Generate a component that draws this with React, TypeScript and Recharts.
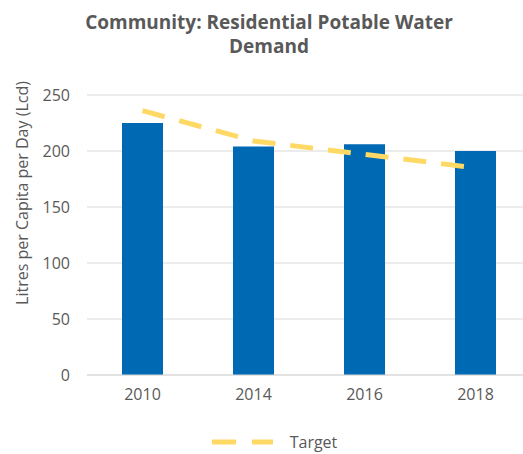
import React from 'react';
import {
  ComposedChart,
  Bar,
  Line,
  XAxis,
  YAxis,
  CartesianGrid,
  Legend,
} from 'recharts';

const years = ['2010', '2014', '2016', '2018'];
const demand = [225, 204, 206, 200];
const target = [236, 209, 197, 185];
const yTicks = [0, 50, 100, 150, 200, 250];

const FONT = '"Open Sans", "Noto Sans", sans-serif';
const GREY = '#595959';
const BLUE = '#0069b4';
const GOLD = '#ffd966';

const data = years.map((y, i) => ({ year: y, demand: demand[i], target: target[i] }));

const TargetLegend = () => (
  <div
    style={{
      display: 'flex',
      justifyContent: 'center',
      alignItems: 'center',
      fontFamily: FONT,
      paddingLeft: 11,
      position: 'relative',
      top: 1,
      lineHeight: '20px',
    }}
  >
    <svg width={61} height={10} style={{ marginRight: 17 }}>
      <line x1={0} y1={5} x2={61} y2={5} stroke={GOLD} strokeWidth={5} strokeDasharray="24 16" />
    </svg>
    <span style={{ color: GREY, fontSize: 16 }}>Target</span>
  </div>
);

// axis title sits a bit above the middle of the plot, like the original
const YTitle = () => (
  <text
    x={22}
    y={193}
    transform="rotate(-90 22 193)"
    textAnchor="middle"
    dominantBaseline="central"
    fill={GREY}
    fontSize={16}
    fontFamily={FONT}
  >
    Litres per Capita per Day (Lcd)
  </text>
);

export default function App() {
  return (
    <div
      style={{
        position: 'absolute',
        left: 0,
        top: 0,
        width: 523,
        height: 454,
        overflow: 'hidden',
        background: '#fff',
      }}
    >
      <div
        style={{
          position: 'absolute',
          left: 15,
          top: 10,
          width: 508,
          textAlign: 'center',
          fontFamily: FONT,
          fontWeight: 700,
          fontSize: 19,
          lineHeight: '24px',
          color: GREY,
        }}
      >
        Community: Residential Potable Water
        <br />
        Demand
      </div>
      {/* plot runs a little past the right edge, as in the source image */}
      <ComposedChart
        width={531}
        height={454}
        data={data}
        margin={{ top: 95, right: 0, left: 7, bottom: 3 }}
      >
        <CartesianGrid vertical={false} stroke="#d9d9d9" />
        <XAxis
          dataKey="year"
          axisLine={{ stroke: '#d9d9d9' }}
          tickLine={false}
          tickMargin={8}
          tick={{ fill: GREY, fontSize: 16, fontFamily: FONT }}
          height={56}
        />
        <YAxis
          width={80}
          domain={[0, 250]}
          ticks={yTicks}
          axisLine={false}
          tickLine={false}
          tickMargin={11}
          tick={{ fill: GREY, fontSize: 16, fontFamily: FONT }}
          label={{ content: () => <YTitle /> }}
        />
        <Legend verticalAlign="bottom" content={() => <TargetLegend />} />
        <Bar dataKey="demand" fill={BLUE} barSize={41} isAnimationActive={false} legendType="none" />
        <Line
          dataKey="target"
          stroke={GOLD}
          strokeWidth={5}
          strokeDasharray="23 15"
          dot={false}
          activeDot={false}
          type="linear"
          isAnimationActive={false}
        />
      </ComposedChart>
    </div>
  );
}
